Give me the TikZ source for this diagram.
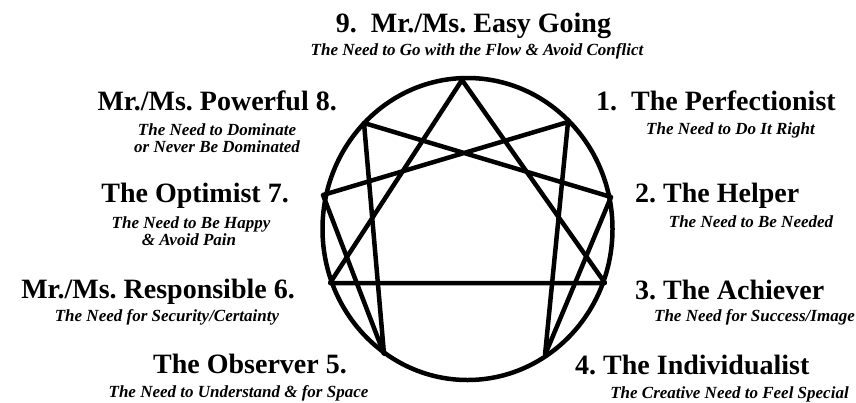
\documentclass[tikz,border=0pt]{standalone}
\usepackage{fontspec}
\setmainfont{Liberation Serif}
\begin{document}
\frenchspacing
\begin{tikzpicture}[x=1pt,y=-1pt,
  line/.style={line width=4.5pt,line join=round},
  ttl/.style={font=\fontsize{28}{32}\selectfont\bfseries,inner sep=0pt},
  sub/.style={font=\fontsize{17}{20}\selectfont\bfseries\itshape,inner sep=0pt}]
\useasboundingbox (0,0) rectangle (856,402);
% points
\coordinate (p9) at (462,80);
\coordinate (p1) at (568,122);
\coordinate (p2) at (611,197);
\coordinate (p3) at (605,283);
\coordinate (p4) at (545,355);
\coordinate (p5) at (384,354);
\coordinate (p6) at (330,283);
\coordinate (p7) at (323,195);
\coordinate (p8) at (364,123);
\draw[line] (467.5,229) ellipse [x radius=145, y radius=151];
\draw[line] (p9) -- (p3) -- (p6) -- cycle;
\draw[line] (p1) -- (p4) -- (p2) -- (p8) -- (p5) -- (p7) -- cycle;
% labels
\node[ttl,anchor=base] (t9) at (473.5,32) {9.\ \ Mr./Ms. Easy Going};
\node[sub,anchor=base] (s9) at (477,55) {The Need to Go with the Flow \& Avoid Conflict};
\node[ttl,anchor=base east] (t8) at (337,110) {Mr./Ms. Powerful 8.};
\node[sub,anchor=base] (s8a) at (217,135) {The Need to Dominate};
\node[sub,anchor=base] (s8b) at (217,152) {or Never Be Dominated};
\node[ttl,anchor=base east] (t7) at (289,202) {The Optimist 7.};
\node[sub,anchor=base] (s7a) at (191,228) {The Need to Be Happy};
\node[sub,anchor=base] (s7b) at (189,245) {\& Avoid Pain};
\node[ttl,anchor=base east] (t6) at (295,298) {Mr./Ms. Responsible 6.};
\node[sub,anchor=base] (s6) at (167,321) {The Need for Security/Certainty};
\node[ttl,anchor=base east] (t5) at (347,373) {The Observer 5.};
\node[sub,anchor=base] (s5) at (238.5,397) {The Need to Understand \& for Space};
\node[ttl,anchor=base west] (t1) at (596,110) {1.\ \ The Perfectionist};
\node[sub,anchor=base] (s1) at (730.5,134) {The Need to Do It Right};
\node[ttl,anchor=base west] (t2) at (635,202) {2. The Helper};
\node[sub,anchor=base] (s2) at (751,227) {The Need to Be Needed};
\node[ttl,anchor=base west] (t3) at (635,299) {3. The Achiever};
\node[sub,anchor=base east] (s3) at (855,321) {The Need for Success/Image};
\node[ttl,anchor=base west] (t4) at (575,374) {4. The Individualist};
\node[sub,anchor=base] (s4) at (729.5,398) {The Creative Need to Feel Special};
\end{tikzpicture}
\end{document}
